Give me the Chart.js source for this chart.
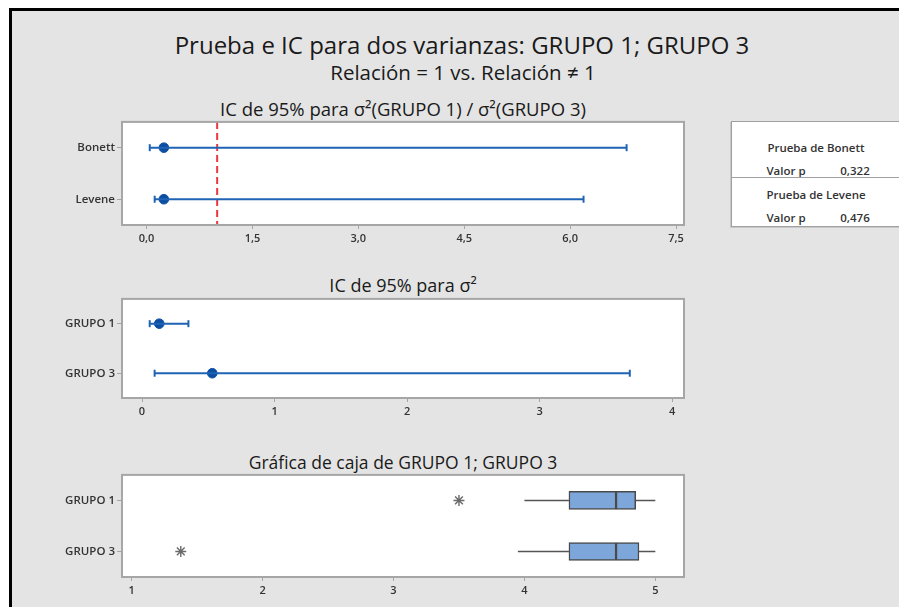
<!DOCTYPE html>
<html>
<head>
<meta charset="utf-8">
<script src="https://cdn.jsdelivr.net/npm/chart.js@4"></script>
<style>
html, body { margin: 0; padding: 0; background: #fff; }
#page { position: relative; width: 899px; height: 607px; overflow: hidden; background: #fff; }
#frame { position: absolute; left: 9px; top: 8px; width: 900px; height: 610px; background: #e4e4e4;
  border-left: 3px solid #000; border-top: 3px solid #000; }
.t { position: absolute; white-space: nowrap; font-family: "Open Sans"; color: #1a1a1a; transform: translate(-50%, -50%); }
canvas { position: absolute; left: 0; }
#pbox { position: absolute; left: 731px; top: 121px; width: 180px; height: 104px; background: #fff;
  border: 1px solid #a0a0a0; box-shadow: -1px 1px 0 #c8c8c8; font-family: "Open Sans"; font-size: 11.5px; font-weight: 600; color: #333; }
#pbox div { position: absolute; white-space: nowrap; transform: translate(-50%, -50%); }
#pbox .sep { left: 0; width: 100%; height: 0; border-top: 1px solid #a0a0a0; transform: none; }
</style>
</head>
<body>
<div id="page">
  <div id="frame"></div>
  <div class="t" style="left:462px; top:44px; font-size:24px;">Prueba e IC para dos varianzas: GRUPO 1; GRUPO 3</div>
  <div class="t" style="left:463px; top:72px; font-size:20.5px;">Relación = 1 vs. Relación ≠ 1</div>
  <div class="t" style="left:403px; top:108px; font-size:18.5px;">IC de 95% para σ²(GRUPO 1) / σ²(GRUPO 3)</div>
  <div class="t" style="left:403px; top:285px; font-size:18px;">IC de 95% para σ²</div>
  <div class="t" style="left:403px; top:462px; font-size:17.5px;">Gráfica de caja de GRUPO 1; GRUPO 3</div>
  <canvas id="ratioChart" width="700" height="137" style="top:113px"></canvas>
  <canvas id="varChart" width="700" height="133" style="top:290px"></canvas>
  <canvas id="boxChart" width="700" height="136" style="top:466px"></canvas>
  <div id="pbox"></div>
</div>
<script>
// ratio of variances, 95% CI
var ratioMethods = ['Bonett', 'Levene'];
var ratioLower = [0.045, 0.115];
var ratioEstimate = [0.245, 0.245];
var ratioUpper = [6.80, 6.19];
var ratioTicks = [0, 1.5, 3.0, 4.5, 6.0, 7.5];
var hypothesizedRatio = 1;

// variance per group, 95% CI
var groups = ['GRUPO 1', 'GRUPO 3'];
var varLower = [0.058, 0.095];
var varEstimate = [0.13, 0.53];
var varUpper = [0.35, 3.68];
var varTicks = [0, 1, 2, 3, 4];

// boxplot summary
var boxMin = [4.0, 3.95];
var boxQ1 = [4.34, 4.34];
var boxMedian = [4.7, 4.7];
var boxQ3 = [4.85, 4.875];
var boxMax = [5.0, 5.0];
var boxOutliers = [3.5, 1.375];
var boxTicks = [1, 2, 3, 4, 5];

// test results
var testNames = ['Prueba de Bonett', 'Prueba de Levene'];
var pValues = [0.322, 0.476];

Chart.defaults.font.family = 'Open Sans';
Chart.defaults.color = '#333';

var blue = '#1f64b4';
var dotBlue = '#0b4ea2';
var frameGray = '#a6a6a6';

function comma(v, d) { return v.toFixed(d).replace('.', ','); }

var plotBox = {
    id: 'plotBox',
    beforeDraw: function (chart) {
        var a = chart.chartArea, c = chart.ctx;
        c.save();
        c.fillStyle = '#fff';
        c.fillRect(a.left, a.top, a.right - a.left, a.bottom - a.top);
        c.restore();
    },
    beforeDatasetsDraw: function (chart, args, opts) {
        var a = chart.chartArea, c = chart.ctx;
        c.save();
        if (opts.refValue !== undefined) {
            var x = chart.scales.x.getPixelForValue(opts.refValue);
            c.strokeStyle = '#e8383d';
            c.lineWidth = 2;
            c.setLineDash([7, 4]);
            c.beginPath();
            c.moveTo(x, a.top);
            c.lineTo(x, a.bottom);
            c.stroke();
            c.setLineDash([]);
        }
        c.strokeStyle = frameGray;
        c.lineWidth = 2;
        c.strokeRect(a.left, a.top, a.right - a.left, a.bottom - a.top);
        c.restore();
    }
};

function xScale(min, max, ticks, decimals) {
    return {
        type: 'linear',
        min: min,
        max: max,
        afterBuildTicks: function (s) { s.ticks = ticks.map(function (v) { return { value: v }; }); },
        afterFit: function (s) { s.height = 25; },
        ticks: {
            autoSkip: false, maxRotation: 0, padding: 3,
            font: { size: 11, weight: '600' }, color: '#333',
            callback: function (v) { return comma(v, decimals); }
        },
        grid: { drawOnChartArea: false, tickLength: 4, color: frameGray },
        border: { display: false }
    };
}

function yScale(labels) {
    return {
        type: 'category',
        labels: labels,
        offset: true,
        afterFit: function (s) { s.width = 122; },
        ticks: { font: { size: 11.5, weight: '600' }, color: '#333', padding: 2 },
        grid: { drawOnChartArea: false, tickLength: 5, color: frameGray, offset: false },
        border: { display: false }
    };
}

var baseOptions = {
    responsive: false, animation: false,
    layout: { padding: { top: 4, right: 16 } }
};

function intervalChart(id, cats, lows, ests, highs, min, max, ticks, decimals, refValue) {
    var datasets = cats.map(function (c, i) {
        return {
            data: [{ x: lows[i], y: c }, { x: highs[i], y: c }],
            borderColor: blue, borderWidth: 2,
            pointStyle: 'line', pointRotation: 90, pointRadius: 3.5,
            pointBorderColor: blue, pointBorderWidth: 2
        };
    });
    datasets.push({
        data: cats.map(function (c, i) { return { x: ests[i], y: c }; }),
        showLine: false, pointRadius: 4.8,
        pointBackgroundColor: dotBlue, pointBorderColor: dotBlue, pointBorderWidth: 1
    });
    return new Chart(document.getElementById(id), {
        type: 'line',
        data: { datasets: datasets },
        options: Object.assign({}, baseOptions, {
            plugins: {
                legend: { display: false }, tooltip: { enabled: false },
                plotBox: { refValue: refValue }
            },
            scales: { x: xScale(min, max, ticks, decimals), y: yScale(cats) }
        }),
        plugins: [plotBox]
    });
}

intervalChart('ratioChart', ratioMethods, ratioLower, ratioEstimate, ratioUpper,
    -0.348, 7.613, ratioTicks, 1, hypothesizedRatio);

intervalChart('varChart', groups, varLower, varEstimate, varUpper,
    -0.151, 4.089, varTicks, 0);

// boxplot built from floating bars + whisker lines + outlier stars
var boxDatasets = [
    {
        type: 'bar', grouped: false,
        data: groups.map(function (g, i) { return [boxQ1[i], boxMedian[i]]; }),
        backgroundColor: '#7da7db', borderColor: '#4a4a4a', borderWidth: 1.5,
        borderSkipped: false, barThickness: 18
    },
    {
        type: 'bar', grouped: false,
        data: groups.map(function (g, i) { return [boxMedian[i], boxQ3[i]]; }),
        backgroundColor: '#7da7db', borderColor: '#4a4a4a', borderWidth: 1.5,
        borderSkipped: false, barThickness: 18
    }
];
groups.forEach(function (g, i) {
    boxDatasets.push({
        type: 'line', data: [{ x: boxMin[i], y: g }, { x: boxQ1[i], y: g }],
        borderColor: '#555', borderWidth: 1.5, pointRadius: 0
    });
    boxDatasets.push({
        type: 'line', data: [{ x: boxQ3[i], y: g }, { x: boxMax[i], y: g }],
        borderColor: '#555', borderWidth: 1.5, pointRadius: 0
    });
});
boxDatasets.push({
    type: 'scatter',
    data: groups.map(function (g, i) { return { x: boxOutliers[i], y: g }; }),
    pointStyle: 'star', pointRadius: 5.5, pointBorderColor: '#6a6a6a', pointBorderWidth: 1.4
});

new Chart(document.getElementById('boxChart'), {
    type: 'bar',
    data: { labels: groups, datasets: boxDatasets },
    options: Object.assign({}, baseOptions, {
        indexAxis: 'y',
        plugins: { legend: { display: false }, tooltip: { enabled: false } },
        scales: { x: xScale(0.926, 5.219, boxTicks, 0), y: yScale(groups) }
    }),
    plugins: [plotBox]
});

// p-value table
var pbox = document.getElementById('pbox');
var html = '';
testNames.forEach(function (name, i) {
    var top = i * 47;
    html += '<div style="left:84px; top:' + (25 + top) + 'px">' + name + '</div>';
    html += '<div style="left:54px; top:' + (48 + top) + 'px">Valor p</div>';
    html += '<div style="left:123px; top:' + (48 + top) + 'px">' + comma(pValues[i], 3) + '</div>';
});
html += '<div class="sep" style="top:55px"></div>';
pbox.innerHTML = html;
</script>
</body>
</html>
